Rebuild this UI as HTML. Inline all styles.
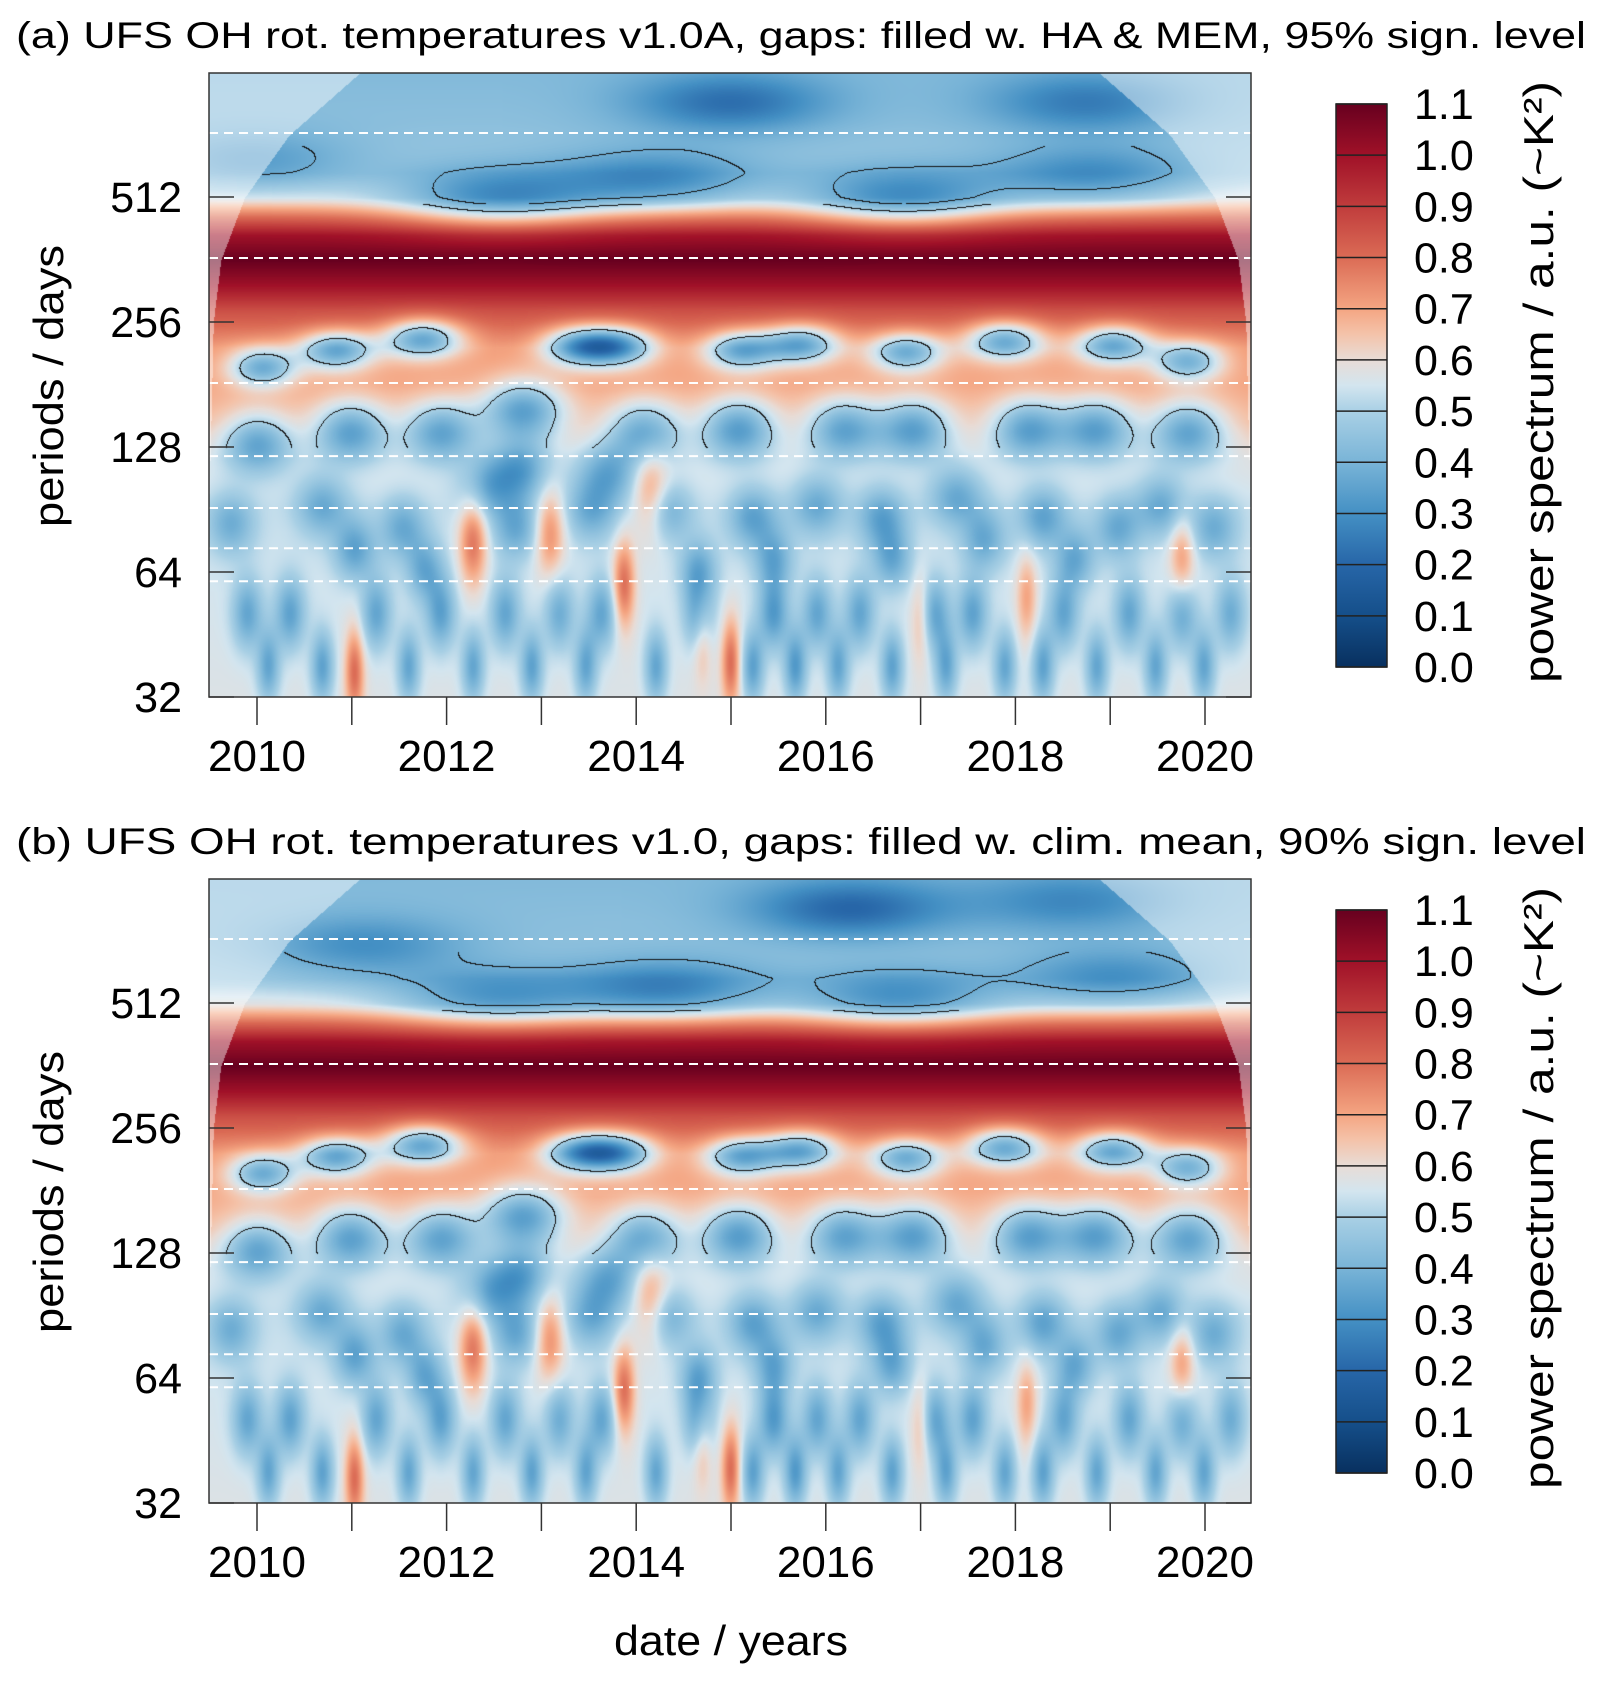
<!DOCTYPE html>
<html><head><meta charset="utf-8">
<style>
html,body{margin:0;padding:0;background:#fff;}
#wrap{position:relative;width:1603px;height:1685px;overflow:hidden;font-family:"Liberation Sans",sans-serif;}
canvas{position:absolute;}
svg{position:absolute;left:0;top:0;}
</style></head>
<body>
<div id="wrap">
<canvas id="cva" width="1042" height="624" style="left:209px;top:73px"></canvas>
<canvas id="cvb" width="1042" height="624" style="left:209px;top:879px"></canvas>
<svg id="svg" width="1603" height="1685"></svg>
</div>
<script>
// ---------- data ----------
const xTickYears = [2010,2011,2012,2013,2014,2015,2016,2017,2018,2019,2020];
const xLabelYears = [2010,2012,2014,2016,2018,2020];
const yTickPeriods = [32,64,128,256,512];
const dashedPeriods = [730,365,182.5,121.7,91.25,73,60.8];
const cbarLevels = [0.0,0.1,0.2,0.3,0.4,0.5,0.6,0.7,0.8,0.9,1.0,1.1];
const titles = ["(a) UFS OH rot. temperatures v1.0A, gaps: filled w. HA & MEM, 95% sign. level",
                "(b) UFS OH rot. temperatures v1.0, gaps: filled w. clim. mean, 90% sign. level"];
const profileLog2 = [5.0,5.5,6.0,6.5,6.9,7.2,7.5,7.8,8.1,8.3,8.5,8.7,8.85,9.0,9.2,9.6,10.0];
const profilePower = [0.57,0.56,0.55,0.54,0.58,0.66,0.70,0.72,0.86,1.0,1.1,1.0,0.8,0.58,0.48,0.44,0.42];
const bandYears = [2010.06,2010.84,2011.75,2013.41,2013.81,2015.11,2015.74,2016.85,2017.89,2019.03,2019.82];
const bandPeriods = [200,220,235,225,225,220,228,218,232,227,207];
const bandValues = [0.38,0.36,0.37,0.36,0.36,0.37,0.37,0.38,0.38,0.37,0.4];
const midYears = [2010.01,2010.99,2011.94,2012.81,2012.79,2014.09,2015.08,2016.19,2016.93,2018.14,2018.86,2019.82];
const midPeriods = [132,141,141,158,114,141,143,143,143,143,143,141];
const midValues = [0.36,0.35,0.36,0.35,0.36,0.37,0.34,0.36,0.35,0.35,0.35,0.36];
const lowYears = [2009.73,2010.69,2011.03,2011.54,2011.77,2012.45,2012.73,2013.53,2013.70,2014.32,2014.66,2015.23,2015.45,2015.91,2016.59,2016.70,2017.38,2017.67,2018.29,2018.63,2019.08,2019.54,2020.10];
const lowPeriods = [84,93,73,82,65,104,82,90,111,90,65,87,69,93,87,69,98,77,87,69,82,93,82];
const lowValues = [0.38,0.37,0.35,0.37,0.37,0.38,0.37,0.38,0.37,0.38,0.37,0.35,0.37,0.37,0.35,0.37,0.37,0.37,0.35,0.37,0.37,0.37,0.38];
const tinyYears = [2009.90,2010.35,2011.26,2011.94,2012.62,2013.19,2013.64,2014.66,2015.45,2015.91,2016.36,2017.15,2017.55,2018.51,2019.20,2019.76,2020.27,
                   2010.12,2010.69,2011.60,2012.28,2012.90,2013.47,2014.21,2015.23,2015.68,2016.13,2016.70,2017.27,2017.89,2018.29,2018.86,2019.48,2019.99];
const tinyPeriods = [51,51,51,51,51,51,51,51,51,51,51,51,51,51,51,51,51,
                     38,38,38,38,38,38,38,38,38,38,38,38,38,38,38,38,38];
const tinyValues = [0.36,0.35,0.36,0.35,0.36,0.38,0.36,0.36,0.33,0.36,0.36,0.36,0.35,0.36,0.36,0.36,0.38,
                    0.36,0.35,0.36,0.36,0.35,0.36,0.36,0.35,0.33,0.36,0.35,0.36,0.36,0.35,0.36,0.36,0.36];
const redYears = [2012.28,2013.09,2013.87,2014.15,2015.0,2011.03,2018.12,2019.76,2017.0,2014.7];
const redPeriods = [76,80,60,98,39,37,56,69,50,45];
const redValues = [0.78,0.74,0.8,0.74,0.8,0.8,0.7,0.72,0.68,0.68];
const topYearsA = [2014.99,2018.74,2014.21,2012.56,2016.81,2018.8,2009.95];
const topPeriodsA = [867,867,560,507,507,577,626];
const topValuesA = [0.22,0.25,0.3,0.32,0.32,0.3,0.34];
const topYearsB = [2016.25,2014.32,2011.14,2019.03,2016.76,2012.5,2018.6];
const topPeriodsB = [867,549,704,588,523,523,900];
const topValuesB = [0.2,0.28,0.3,0.3,0.32,0.34,0.28];
const coiLog2 = [6.5,7.0,8.0,8.5,9.0,9.5,10.0];
const coiYears = [0.0,0.02,0.05,0.13,0.38,0.85,1.6];

// ---------- scales ----------
const X0 = 257, PXY = 94.8, YEAR_START = 2009.494, YEAR_END = 2020.486;
const PANEL_TOP = [73, 879], PH = 624, PW = 1042, PLOT_LEFT = 209;
function xScale(yr){ return X0 + (yr-2010)*PXY; }
function yScale(p, panel){ return PANEL_TOP[panel] + PH - 125*(Math.log2(p)-5); }
function interp(xs, ys, x){
  if (x<=xs[0]) return ys[0];
  for (let i=1;i<xs.length;i++) if (x<=xs[i]) { const t=(x-xs[i-1])/(xs[i]-xs[i-1]); return ys[i-1]+t*(ys[i]-ys[i-1]); }
  return ys[ys.length-1];
}
const cmapV = [0,0.1,0.2,0.3,0.4,0.5,0.55,0.6,0.65,0.7,0.8,0.9,1.0,1.1];
const cmapC = ['#08305f','#154f8a','#2766a8','#4490c4','#79b4d7','#a9d0e5','#d3e5ef','#e8dcd6','#f4c3aa','#f4a582','#db6b55','#c03c3c','#a01128','#67001f'];
function hex(c){return [parseInt(c.substr(1,2),16),parseInt(c.substr(3,2),16),parseInt(c.substr(5,2),16)];}
const cmapRGB = cmapC.map(hex);
function colorOf(v){
  v=Math.max(0,Math.min(1.1,v));
  let i=1; while(i<cmapV.length-1 && v>cmapV[i]) i++;
  const t=(v-cmapV[i-1])/(cmapV[i]-cmapV[i-1]);
  const a=cmapRGB[i-1], b=cmapRGB[i];
  return [a[0]+t*(b[0]-a[0]), a[1]+t*(b[1]-a[1]), a[2]+t*(b[2]-a[2])];
}
function buildSpots(years, periods, values, sxK, sxMin, sy){
  const out=[];
  for(let i=0;i<years.length;i++){
    const l=Math.log2(periods[i]);
    out.push({t:years[i], l:l, d:values[i]-interp(profileLog2,profilePower,l), sx:Math.max(sxMin, sxK*periods[i]/365), sy:sy});
  }
  return out;
}
function renderPanel(panel, cvId, topY, topP, topV){
  const spots = [].concat(
    buildSpots(bandYears,bandPeriods,bandValues,0.45,0.1,0.11),
    buildSpots(midYears,midPeriods,midValues,0.7,0.1,0.17),
    buildSpots(lowYears,lowPeriods,lowValues,0.75,0.07,0.17),
    buildSpots(tinyYears,tinyPeriods,tinyValues,0.8,0.06,0.2),
    buildSpots(redYears,redPeriods,redValues,0.5,0.07,0.25),
    buildSpots(topY,topP,topV,0.0,0.75,0.17)
  );
  const cv=document.getElementById(cvId), ctx=cv.getContext('2d');
  const img=ctx.createImageData(PW,PH), F=new Float32Array(PW*PH);
  for(let py=0;py<PH;py++){
    const l=10-(py+0.5)/125;
    const base=interp(profileLog2,profilePower,l);
    const rowS=spots.filter(s=>Math.abs(s.l-l)<3.2*s.sy);
    for(let px=0;px<PW;px++){
      const t=YEAR_START+(px+0.5)/PXY;
      let v=base;
      for(const s of rowS){
        const dx=(t-s.t)/s.sx; if(dx>3.2||dx<-3.2) continue;
        const dy=(l-s.l)/s.sy;
        v+=s.d*Math.exp(-0.5*(dx*dx+dy*dy));
      }
      F[py*PW+px]=v;
    }
  }
  for(let py=0;py<PH;py++){
    const l=10-(py+0.5)/125;
    const coi=interp(coiLog2,coiYears,l);
    const lev = l>8.95 ? 0.38 : 0.5;
    for(let px=0;px<PW;px++){
      const t=YEAR_START+(px+0.5)/PXY;
      const v=F[py*PW+px];
      let c=colorOf(v);
      const inside = (t-YEAR_START)>=coi && (YEAR_END-t)>=coi;
      if(!inside){ c=[c[0]*0.55+255*0.45,c[1]*0.55+255*0.45,c[2]*0.55+255*0.45]; }
      if(inside && l>7.0 && l<9.42 && px<PW-1 && py<PH-1){
        const a=v>lev, b=F[py*PW+px+1]>lev, d=F[(py+1)*PW+px]>lev;
        if(a!==b||a!==d) c=[20,20,20];
      }
      const k=(py*PW+px)*4; img.data[k]=c[0]; img.data[k+1]=c[1]; img.data[k+2]=c[2]; img.data[k+3]=255;
    }
  }
  ctx.putImageData(img,0,0);
}
renderPanel(0,'cva',topYearsA,topPeriodsA,topValuesA);
renderPanel(1,'cvb',topYearsB,topPeriodsB,topValuesB);

// ---------- SVG overlay ----------
const NS='http://www.w3.org/2000/svg', svg=document.getElementById('svg');
function mk(tag, attrs, parent){ const e=document.createElementNS(NS,tag); for(const k in attrs) e.setAttribute(k,attrs[k]); (parent||svg).appendChild(e); return e; }
const defs=mk('defs',{});
const grad=mk('linearGradient',{id:'cbg',x1:0,y1:1,x2:0,y2:0},defs);
for(let i=0;i<cmapV.length;i++) mk('stop',{offset:(cmapV[i]/1.1).toFixed(4),'stop-color':cmapC[i]},grad);

for(let p=0;p<2;p++){
  const off=p*806, top=PANEL_TOP[p], bot=top+PH;
  const g=mk('g',{});
  
  
  const tt=mk('text',{x:16,y:48+off,'font-size':37,textLength:1570,lengthAdjust:'spacingAndGlyphs',fill:'#000'},g);
  tt.textContent=titles[p];
  
  
  for(const d of dashedPeriods){
    const ln=mk('line',{x1:PLOT_LEFT,x2:PLOT_LEFT+PW,y1:yScale(d,p),y2:yScale(d,p),stroke:'#fff','stroke-width':2,'stroke-dasharray':'9 6'},g);
    
    
  }
  const fr=mk('rect',{x:PLOT_LEFT,y:top,width:PW,height:PH,fill:'none',stroke:'#333','stroke-width':1.5},g);
  
  
  for(const tp of yTickPeriods){
    const y=yScale(tp,p);
    mk('line',{x1:PLOT_LEFT,x2:PLOT_LEFT+25,y1:y,y2:y,stroke:'#333','stroke-width':1.5},g);
    mk('line',{x1:PLOT_LEFT+PW-25,x2:PLOT_LEFT+PW,y1:y,y2:y,stroke:'#333','stroke-width':1.5},g);
    const tx=mk('text',{x:182,y:y+15,'font-size':43,'text-anchor':'end',fill:'#000'},g);
    tx.textContent=tp;
    
    
  }
  for(const yr of xTickYears){
    const x=xScale(yr);
    mk('line',{x1:x,x2:x,y1:bot,y2:bot+28,stroke:'#333','stroke-width':1.5},g);
  }
  for(const yr of xLabelYears){
    const tx=mk('text',{x:xScale(yr),y:bot+74,'font-size':44,'text-anchor':'middle',fill:'#000'},g);
    tx.textContent=yr;
    
    
  }
  const yt=mk('text',{x:0,y:0,'font-size':42,'text-anchor':'middle',fill:'#000',transform:`translate(63,${386+off}) rotate(-90)`,textLength:282,lengthAdjust:'spacingAndGlyphs'},g);
  yt.textContent='periods / days';
  
  
  const cbTop=104+off, cbBot=667+off, cbH=cbBot-cbTop;
  const cb=mk('rect',{x:1336,y:cbTop,width:51,height:cbH,fill:'url(#cbg)',stroke:'#222','stroke-width':1.5},g);
  
  
  for(const lv of cbarLevels){
    const y=cbBot-lv/1.1*cbH;
    mk('line',{x1:1336,x2:1387,y1:y,y2:y,stroke:'#222','stroke-width':1.5},g);
    const tx=mk('text',{x:1414,y:y+15,'font-size':43,fill:'#000'},g);
    tx.textContent=lv.toFixed(1);
    
    
  }
  const ct=mk('text',{x:0,y:0,'font-size':42,'text-anchor':'middle',fill:'#000',transform:`translate(1553,${382+off}) rotate(-90)`,textLength:602,lengthAdjust:'spacingAndGlyphs'},g);
  ct.textContent='power spectrum / a.u. (~K²)';
  
  
}
const xt=mk('text',{x:731,y:1655,'font-size':42,'text-anchor':'middle',fill:'#000',textLength:234,lengthAdjust:'spacingAndGlyphs'});
xt.textContent='date / years';


</script>
</body></html>
